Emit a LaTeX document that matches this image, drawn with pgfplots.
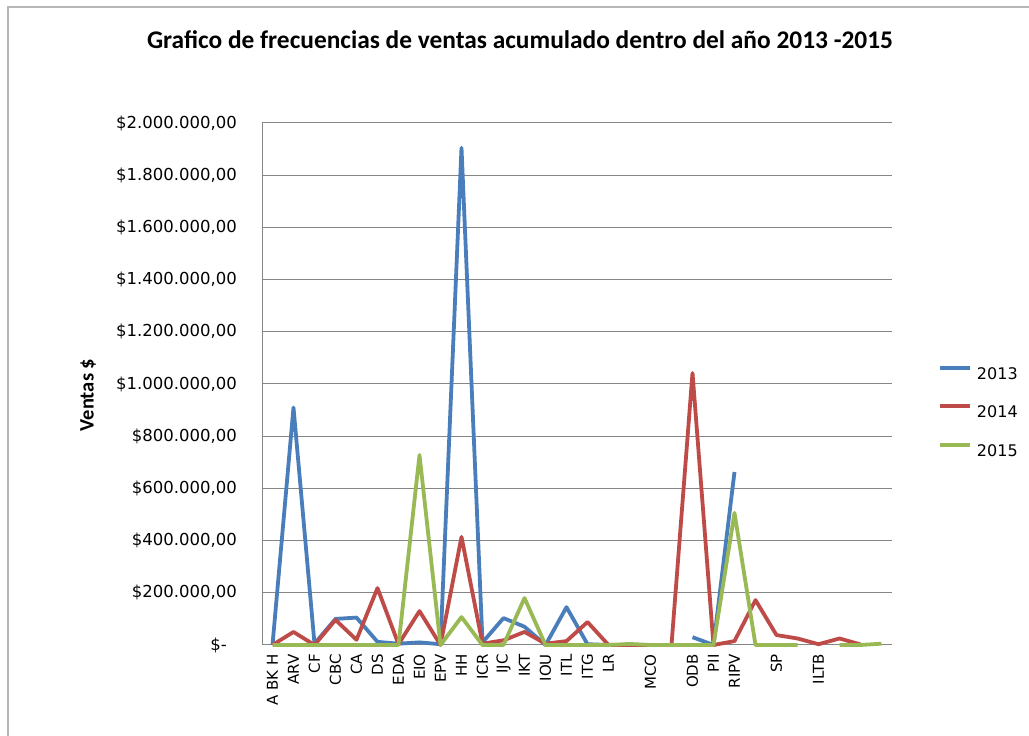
\documentclass[border=0pt]{standalone}
\usepackage{pgfplots}
\pgfplotsset{compat=1.18}
\usepackage{fontspec}
\setmainfont{DejaVu Sans}
\newfontfamily\carlito{Carlito}
\definecolor{s13}{HTML}{4A7EBB}
\definecolor{s14}{HTML}{BE4B48}
\definecolor{s15}{HTML}{98B954}
\definecolor{gridc}{HTML}{868686}
\pgfplotstableread{
idx y13 y14 y15
0 0 0 0
1 910000 50000 0
2 5000 0 0
3 100000 96000 0
4 105000 20000 0
5 12000 218000 0
6 5000 3000 0
7 10000 130000 728000
8 3000 0 0
9 1905000 414000 107000
10 10000 5000 0
11 103000 18000 0
12 70000 50000 180000
13 0 5000 0
14 145000 15000 0
15 3000 88000 0
16 0 0 0
17 nan 0 4000
18 nan 0 0
19 nan 0 0
20 30000 1042000 0
21 0 0 0
22 663000 15000 506000
23 nan 172000 0
24 nan 38000 0
25 nan 25000 0
26 nan 3000 nan
27 nan 25000 0
28 nan 2000 0
29 nan nan 5000
}\datatable
\begin{document}
\begin{tikzpicture}[x=1pt,y=1pt]
\path[use as bounding box] (0,0) rectangle (1029,736);
\draw[gridc!60, line width=1.5pt] (8,0) -- (8,729) -- (1029,729);
\node[font=\carlito\bfseries\fontsize{25.4}{30}\selectfont] at (520,696) {Grafico de frecuencias de ventas acumulado dentro del año 2013 -2015};
\node[rotate=90, font=\carlito\bfseries\fontsize{20.5}{24}\selectfont] at (88,341) {Ventas \$};
\begin{axis}[
  at={(262pt,91pt)}, anchor=south west, scale only axis,
  width=630pt, height=522pt,
  xmin=-0.5, xmax=29.5, ymin=0, ymax=2000000,
  clip=false, unbounded coords=jump,
  axis x line*=bottom, axis y line*=left,
  axis line style={draw=gridc, line width=1pt},
  major tick length=0pt,
  ymajorgrids, grid style={draw=gridc, line width=1pt},
  scaled y ticks=false,
  ytick={0,200000,400000,600000,800000,1000000,1200000,1400000,1600000,1800000,2000000},
  yticklabels={{\$-\hspace*{10pt}},{\$200.000,00},{\$400.000,00},{\$600.000,00},{\$800.000,00},{\$1.000.000,00},{\$1.200.000,00},{\$1.400.000,00},{\$1.600.000,00},{\$1.800.000,00},{\$2.000.000,00}},
  yticklabel style={inner sep=0pt, anchor=east, xshift=-25pt, font=\fontsize{16.5}{19}\selectfont},
  xtick={0,...,29},
  xticklabels={A BK H,ARV,CF,CBC,CA,DS,EDA,EIO,EPV,HH,ICR,IJC,IKT,IOU,ITL,ITG,LR,,MCO,,ODB,PII,RIPV,,SP,,ILTB,,,},
  xticklabel style={yshift=-9pt, rotate=90, anchor=east, inner sep=0pt, font=\fontsize{15}{18}\selectfont},
  every axis plot/.append style={line width=3.8pt, line join=round, no markers},
  legend style={at={(1.073,0.448)}, anchor=west, draw=none, fill=none, inner sep=0pt,
    column sep=5pt, row sep=25pt,
    nodes={inner sep=0pt, text height=11.7pt, text depth=0pt, anchor=west},
    font=\fontsize{16}{19}\selectfont},
  legend cell align=left,
  legend image code/.code={\draw[#1] (0pt,5.8pt) -- (30pt,5.8pt);},
]
\addplot[s13] table[x=idx,y=y13] {\datatable};
\addplot[s14] table[x=idx,y=y14] {\datatable};
\addplot[s15] table[x=idx,y=y15] {\datatable};
\legend{2013,2014,2015}
\end{axis}
\end{tikzpicture}
\end{document}
